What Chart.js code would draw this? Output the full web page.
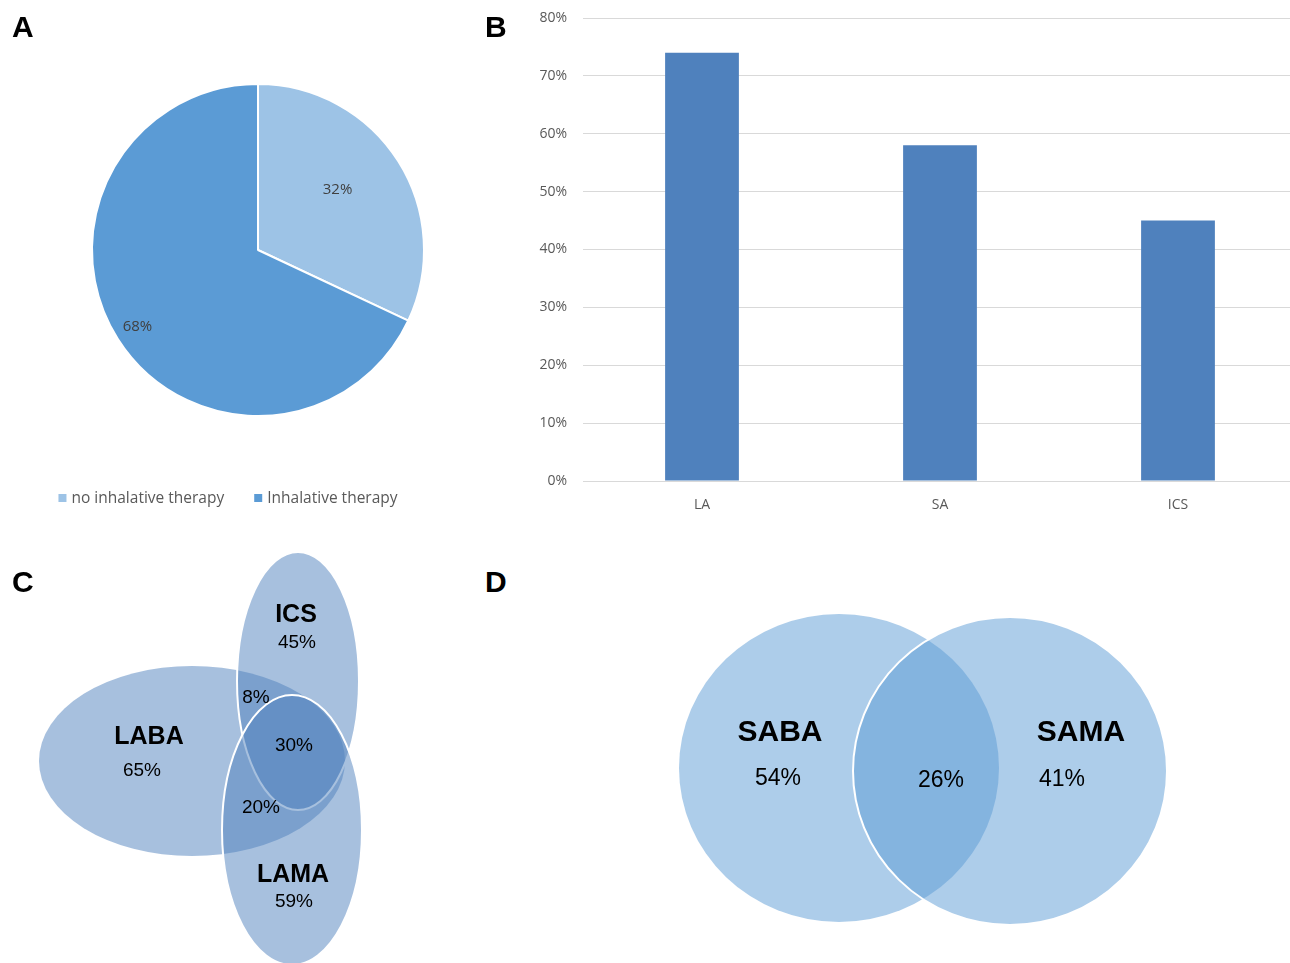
<!DOCTYPE html>
<html>
<head>
<meta charset="utf-8">
<script src="https://cdn.jsdelivr.net/npm/chart.js@4.4.1/dist/chart.umd.min.js"></script>
<style>
  html, body { margin: 0; padding: 0; background: #fff; width: 1290px; height: 963px; overflow: hidden; }
  canvas { position: absolute; }
  .tag { position: absolute; z-index: 2; font: bold 30px "Liberation Sans", Arial, sans-serif; line-height: 30px; color: #000; }
</style>
</head>
<body>
<canvas id="pieA"  width="480" height="530" style="left:0;top:0"></canvas>
<canvas id="barB"  width="817" height="530" style="left:480px;top:0"></canvas>
<canvas id="vennC" width="480" height="423" style="left:0;top:540px"></canvas>
<canvas id="vennD" width="690" height="423" style="left:600px;top:540px"></canvas>
<div class="tag" style="left:12px;top:12px">A</div>
<div class="tag" style="left:485px;top:12px">B</div>
<div class="tag" style="left:12px;top:567px">C</div>
<div class="tag" style="left:485px;top:567px">D</div>
<script>
// ── data ──
const pieLabels = ["no inhalative therapy", "Inhalative therapy"];
const pieValues = [32, 68];

const barLabels = ["LA", "SA", "ICS"];
const barValues = [74, 58, 45];
const barMax = 80, barStep = 10;

const vennCSets     = ["LABA", "ICS", "LAMA"];
const vennCValues   = [65, 45, 59];
const vennCOverlaps = [8, 30, 20];        // LABA∩ICS, all three, LABA∩LAMA

const vennDSets     = ["SABA", "SAMA"];
const vennDValues   = [54, 41];
const vennDOverlaps = [26];               // SABA∩SAMA

// ── layout (page px used as scale units for the venn panels) ──
const vennCShapes = [
  { cx: 192, cy: 761, rx: 153, ry: 95,  stroke: false },
  { cx: 298, cy: 681, rx: 61,  ry: 129, stroke: true },
  { cx: 292, cy: 830, rx: 70,  ry: 135, stroke: true }
];
const vennCNamePos = [[149, 737], [296, 615], [293, 875]];
const vennCValPos  = [[142, 771], [297, 643], [294, 902]];
const vennCOvPos   = [[256, 698], [294, 746], [261, 808]];

const vennDShapes = [
  { cx: 839, cy: 768, rx: 160, ry: 154, stroke: false },
  { cx: 1010, cy: 771, rx: 157, ry: 154, stroke: true }
];
const vennDNamePos = [[780, 733], [1081, 733]];
const vennDValPos  = [[778, 779], [1062, 780]];
const vennDOvPos   = [[941, 781]];

const UI = '"Open Sans", "DejaVu Sans", sans-serif';
const ARIAL = '"Liberation Sans", Arial, sans-serif';

// ── A: pie ──
const pieColors = ["#9DC3E6", "#5B9BD5"];
const pieLabelR = [0.6, 0.86];
const pieLabelShift = [-0.08, 0];   // small angle nudge (rad), like Excel best-fit

const pieExtras = {
  id: "pieExtras",
  afterDatasetsDraw(chart) {
    const ctx = chart.ctx;
    const meta = chart.getDatasetMeta(0);
    ctx.save();
    ctx.font = "15px " + UI;
    ctx.fillStyle = "#404040";
    ctx.textAlign = "center";
    ctx.textBaseline = "middle";
    meta.data.forEach((arc, i) => {
      const p = arc.getProps(["x", "y", "startAngle", "endAngle", "outerRadius"], true);
      const mid = (p.startAngle + p.endAngle) / 2 + pieLabelShift[i];
      const r = p.outerRadius * pieLabelR[i];
      ctx.fillText(pieValues[i] + "%", p.x + Math.cos(mid) * r, p.y + Math.sin(mid) * r);
    });

    // legend
    ctx.font = "15.5px " + UI;
    ctx.textAlign = "left";
    const gap = 30, box = 8, txtOff = 13;
    const widths = pieLabels.map(l => ctx.measureText(l).width);
    const total = widths.reduce((a, w) => a + txtOff + w, 0) + gap * (pieLabels.length - 1);
    let x = 228 - total / 2;
    const y = 498;
    pieLabels.forEach((l, i) => {
      ctx.fillStyle = pieColors[i];
      ctx.fillRect(x, y - box / 2, box, box);
      ctx.fillStyle = "#595959";
      ctx.fillText(l, x + txtOff, y + 1);
      x += txtOff + widths[i] + gap;
    });
    ctx.restore();
  }
};

new Chart(document.getElementById("pieA"), {
  type: "pie",
  data: {
    labels: pieLabels,
    datasets: [{ data: pieValues, backgroundColor: pieColors, borderColor: "#fff", borderWidth: 2 }]
  },
  options: {
    responsive: false,
    animation: false,
    layout: { padding: { left: 91, top: 83, right: 55, bottom: 113 } },
    plugins: { legend: { display: false }, tooltip: { enabled: false } }
  },
  plugins: [pieExtras]
});

// ── B: bars ──
new Chart(document.getElementById("barB"), {
  type: "bar",
  data: {
    labels: barLabels,
    datasets: [{ data: barValues, backgroundColor: "#4F81BD", borderWidth: 0, barPercentage: 0.31, categoryPercentage: 1 }]
  },
  options: {
    responsive: false,
    animation: false,
    layout: { padding: { top: 18, left: 0, right: 0, bottom: 0 } },
    plugins: { legend: { display: false }, tooltip: { enabled: false } },
    scales: {
      x: {
        grid: { display: false, drawTicks: false },
        border: { color: "#D9D9D9" },
        ticks: { color: "#595959", font: { family: UI, size: 14 }, padding: 16 },
        afterFit(s) { s.height = 49; }
      },
      y: {
        min: 0, max: barMax,
        grid: { color: "#D9D9D9", drawTicks: false },
        border: { display: false },
        ticks: { stepSize: barStep, color: "#595959", font: { family: UI, size: 14 }, padding: 16, callback: v => v + "%" },
        // tick padding would otherwise also push the plot top down
        afterFit(s) { s.width = 103; s.paddingTop = 0; s.paddingBottom = 0; }
      }
    }
  }
});

// ── C, D: venn via scatter scales ──
const vennPlugin = {
  id: "venn",
  afterDatasetsDraw(chart, args, o) {
    const ctx = chart.ctx;
    const xs = chart.scales.x, ys = chart.scales.y;
    const meta = chart.getDatasetMeta(0);
    const px = v => xs.getPixelForValue(v), py = v => ys.getPixelForValue(v);
    ctx.save();
    o.shapes.forEach((s, i) => {
      const c = meta.data[i];
      const rx = Math.abs(px(s.cx + s.rx) - px(s.cx));
      const ry = Math.abs(py(s.cy + s.ry) - py(s.cy));
      ctx.beginPath();
      ctx.ellipse(c.x, c.y, rx, ry, 0, 0, Math.PI * 2);
      ctx.fillStyle = o.fill;
      ctx.fill();
      if (s.stroke) {
        ctx.strokeStyle = "#fff";
        ctx.lineWidth = 2;
        ctx.stroke();
      }
    });
    ctx.fillStyle = "#000";
    ctx.textAlign = "center";
    ctx.textBaseline = "middle";
    ctx.font = "bold " + o.nameSize + "px " + ARIAL;
    o.names.forEach((n, i) => ctx.fillText(n, px(o.namePos[i][0]), py(o.namePos[i][1])));
    ctx.font = o.valSize + "px " + ARIAL;
    o.values.forEach((v, i) => ctx.fillText(v + "%", px(o.valPos[i][0]), py(o.valPos[i][1])));
    o.overlaps.forEach((v, i) => ctx.fillText(v + "%", px(o.ovPos[i][0]), py(o.ovPos[i][1])));
    ctx.restore();
  }
};

function vennChart(id, shapes, xr, yr, extra) {
  return new Chart(document.getElementById(id), {
    type: "scatter",
    data: { datasets: [{ data: shapes.map(s => ({ x: s.cx, y: s.cy })), pointRadius: 0 }] },
    options: {
      responsive: false,
      animation: false,
      layout: { padding: 0 },
      plugins: { legend: { display: false }, tooltip: { enabled: false }, venn: Object.assign({ shapes }, extra) },
      scales: {
        x: { display: false, min: xr[0], max: xr[1] },
        y: { display: false, min: yr[0], max: yr[1], reverse: true }
      }
    },
    plugins: [vennPlugin]
  });
}

vennChart("vennC", vennCShapes, [0, 480], [540, 963], {
  fill: "rgba(79,129,189,0.5)",
  names: vennCSets, values: vennCValues, overlaps: vennCOverlaps,
  namePos: vennCNamePos, valPos: vennCValPos, ovPos: vennCOvPos,
  nameSize: 25, valSize: 19
});

vennChart("vennD", vennDShapes, [600, 1290], [540, 963], {
  fill: "rgba(91,155,213,0.5)",
  names: vennDSets, values: vennDValues, overlaps: vennDOverlaps,
  namePos: vennDNamePos, valPos: vennDValPos, ovPos: vennDOvPos,
  nameSize: 30, valSize: 23
});
</script>
</body>
</html>
